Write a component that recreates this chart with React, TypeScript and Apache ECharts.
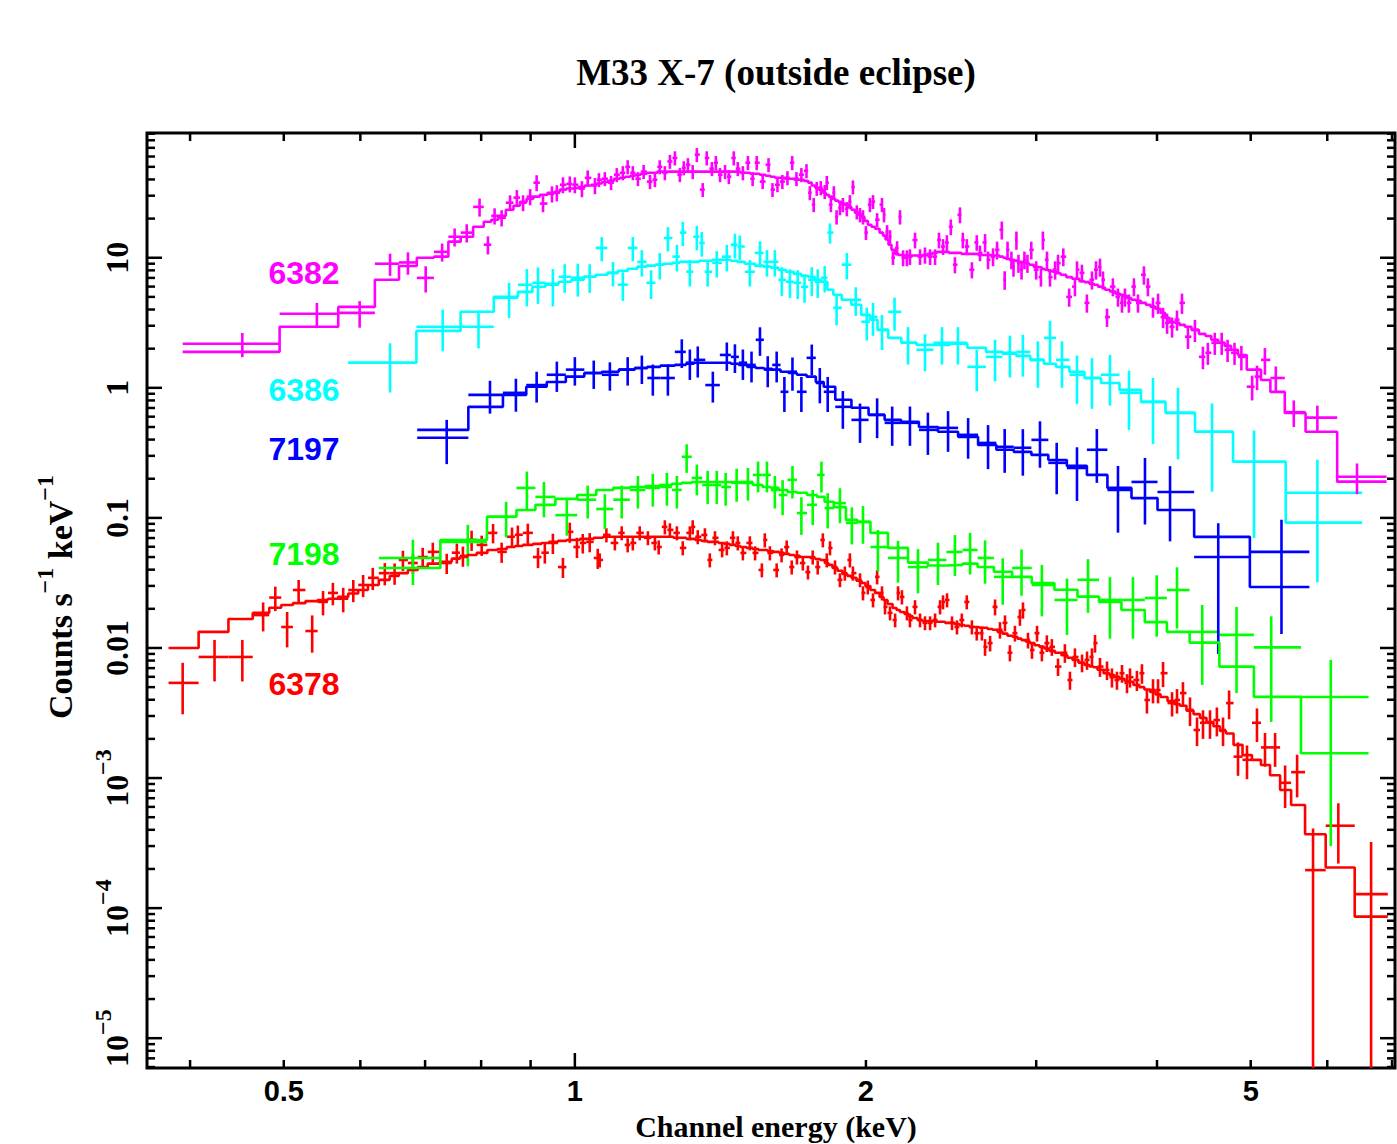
import React, { useEffect, useRef } from 'react';
import * as echarts from 'echarts';

// Each row: [channel energy keV, counts s^-1 keV^-1, 1-sigma error, model]
type Row = [number, number, number, number];

const X_MIN = 0.361;
const X_MAX = 7.05;
const Y_MIN = 5.9e-6;
const Y_MAX = 91;

const xLabelValues = [0.5, 1, 2, 5];
const xMajorTickValues = [1];
const xMinorTickValues = [0.4, 0.5, 0.6, 0.7, 0.8, 0.9, 2, 3, 4, 5, 6, 7];
const yLabelValues = [1e-5, 1e-4, 1e-3, 0.01, 0.1, 1, 10];
const yMinorMultipliers = [2, 3, 4, 5, 6, 7, 8, 9];

const magentaEdges = [0.393, 6.91];
const magenta6382: Row[] = [
  [0.453, 2.18, 0.46, 1.89], [0.541, 3.71, 0.79, 2.95], [0.599, 3.77, 0.87, 4.19], [0.644, 9.0, 1.75, 6.77],
  [0.672, 9.2, 1.8, 8.65], [0.701, 7.0, 1.6, 10.0], [0.729, 11.1, 1.75, 10.2], [0.751, 14.5, 2.3, 13.3],
  [0.773, 15.6, 2.5, 14.5], [0.797, 24.6, 3.9, 17.3], [0.813, 12.6, 2.0, 18.9], [0.826, 21.0, 3.0, 19.6],
  [0.840, 20.3, 2.9, 21.0], [0.857, 26.5, 3.7, 23.4], [0.871, 29.0, 4.1, 25.1], [0.884, 26.5, 3.7, 26.9],
  [0.899, 29.5, 4.2, 28.4], [0.913, 37.8, 5.3, 29.5], [0.927, 26.1, 3.7, 30.5], [0.947, 31.0, 4.4, 31.6],
  [0.958, 31.6, 4.5, 32.2], [0.972, 36.4, 5.1, 33.4], [0.988, 37.0, 5.2, 34.1], [1.000, 36.4, 5.1, 34.5],
  [1.017, 34.0, 4.8, 35.0], [1.031, 41.1, 5.8, 35.9], [1.049, 35.9, 5.1, 36.4], [1.059, 39.8, 4.9, 37.2],
  [1.074, 40.5, 5.0, 38.2], [1.090, 37.8, 4.7, 39.0], [1.105, 43.5, 5.4, 40.5], [1.121, 45.0, 5.6, 41.2],
  [1.134, 50.0, 6.2, 42.0], [1.148, 45.0, 5.6, 42.7], [1.162, 40.5, 5.0, 43.5], [1.178, 46.0, 5.7, 44.2],
  [1.196, 38.5, 4.8, 45.0], [1.210, 39.8, 4.9, 45.0], [1.224, 50.0, 6.2, 45.9], [1.239, 45.0, 5.6, 45.9],
  [1.254, 55.0, 6.8, 45.9], [1.269, 58.5, 7.3, 45.9], [1.284, 43.5, 5.4, 45.9], [1.296, 49.1, 6.1, 45.9],
  [1.309, 51.9, 6.4, 45.9], [1.324, 45.9, 5.7, 45.9], [1.337, 62.0, 7.7, 45.9], [1.356, 33.4, 4.1, 45.9],
  [1.369, 58.5, 7.3, 45.9], [1.386, 48.4, 6.0, 45.9], [1.399, 53.8, 6.7, 45.9], [1.413, 43.5, 5.4, 45.9],
  [1.430, 45.9, 5.7, 45.9], [1.443, 42.0, 5.2, 45.9], [1.460, 58.5, 7.3, 45.9], [1.474, 48.4, 6.0, 45.9],
  [1.492, 45.0, 5.6, 45.0], [1.510, 53.8, 6.7, 45.0], [1.527, 40.5, 5.0, 44.2], [1.542, 53.8, 6.7, 44.2],
  [1.564, 38.5, 4.8, 43.5], [1.586, 51.9, 6.4, 42.7], [1.601, 33.4, 4.1, 42.0], [1.620, 36.4, 4.5, 41.2],
  [1.639, 38.5, 4.8, 41.2], [1.659, 41.2, 5.1, 40.5], [1.678, 53.8, 6.7, 40.5], [1.695, 40.5, 5.0, 39.8],
  [1.715, 43.5, 5.4, 39.8], [1.736, 46.6, 5.8, 39.0], [1.750, 31.6, 3.9, 37.8], [1.766, 25.6, 3.2, 35.9],
  [1.779, 34.1, 4.2, 34.5], [1.796, 34.5, 4.3, 33.4], [1.813, 32.2, 4.0, 31.6], [1.822, 37.8, 4.7, 30.5],
  [1.840, 25.6, 3.2, 29.5], [1.853, 31.6, 3.9, 28.4], [1.865, 20.6, 2.6, 27.5], [1.880, 24.2, 3.0, 26.9],
  [1.893, 25.6, 3.2, 26.1], [1.911, 23.8, 3.0, 25.6], [1.925, 27.0, 3.3, 24.6], [1.939, 35.0, 4.3, 23.4],
  [1.957, 22.5, 2.8, 22.2], [1.972, 21.4, 2.7, 21.4], [1.986, 20.6, 2.6, 20.6], [2.000, 15.6, 1.9, 19.2],
  [2.019, 25.6, 3.2, 17.9], [2.034, 27.0, 3.3, 17.3], [2.054, 19.6, 2.4, 16.7], [2.078, 25.6, 3.2, 15.6],
  [2.088, 21.4, 2.7, 14.8], [2.103, 15.8, 2.0, 13.8], [2.118, 14.5, 1.8, 12.6], [2.133, 10.0, 1.2, 11.5],
  [2.154, 11.9, 1.5, 10.7], [2.169, 20.6, 2.6, 10.5], [2.185, 10.0, 1.4, 10.4], [2.205, 10.0, 1.4, 10.4],
  [2.221, 10.2, 1.4, 10.4], [2.248, 13.7, 1.9, 10.4], [2.275, 10.2, 1.4, 10.4], [2.302, 10.5, 1.5, 10.5],
  [2.330, 10.2, 1.4, 10.7], [2.358, 10.2, 1.4, 10.9], [2.380, 13.7, 1.9, 11.1], [2.403, 12.2, 1.7, 11.1],
  [2.425, 13.1, 1.8, 11.1], [2.448, 17.3, 2.4, 10.9], [2.472, 8.84, 1.25, 10.9], [2.502, 21.4, 3.0, 10.9],
  [2.519, 13.7, 1.9, 10.7], [2.543, 12.2, 1.7, 10.7], [2.574, 8.09, 1.15, 10.7], [2.604, 13.1, 1.8, 10.7],
  [2.624, 10.9, 1.5, 10.5], [2.656, 13.1, 2.1, 10.5], [2.675, 9.65, 1.5, 10.5], [2.707, 10.2, 1.6, 10.4],
  [2.733, 11.5, 1.8, 10.4], [2.764, 16.4, 2.6, 10.2], [2.783, 6.77, 1.1, 10.0], [2.802, 11.5, 1.8, 9.8],
  [2.828, 9.65, 1.5, 9.65], [2.842, 8.5, 1.35, 9.5], [2.862, 13.7, 2.2, 9.5], [2.876, 9.1, 1.45, 9.3],
  [2.897, 8.09, 1.3, 9.3], [2.917, 9.65, 1.5, 9.1], [2.938, 9.1, 1.45, 9.0], [2.965, 11.5, 1.8, 8.84],
  [3.000, 8.09, 1.3, 8.5], [3.034, 7.1, 1.1, 8.4], [3.048, 13.7, 2.2, 8.2], [3.078, 9.65, 1.5, 8.09],
  [3.100, 7.1, 1.1, 7.9], [3.138, 8.09, 1.3, 7.8], [3.160, 9.1, 1.45, 7.6], [3.200, 10.2, 1.6, 7.4],
  [3.245, 5.0, 0.8, 7.1], [3.290, 6.0, 0.95, 6.9], [3.306, 8.09, 1.3, 6.9], [3.345, 7.65, 1.2, 6.6],
  [3.385, 4.5, 0.72, 6.5], [3.426, 6.77, 1.08, 6.3], [3.459, 8.09, 1.3, 6.2], [3.492, 8.5, 1.35, 6.0],
  [3.517, 6.77, 1.08, 5.9], [3.551, 3.5, 0.56, 5.67], [3.601, 6.0, 0.95, 5.5], [3.645, 5.0, 0.8, 5.3],
  [3.680, 4.5, 0.72, 5.19], [3.706, 5.0, 0.8, 5.1], [3.741, 4.5, 0.72, 4.9], [3.786, 6.0, 0.95, 4.75],
  [3.823, 4.5, 0.72, 4.67], [3.877, 7.4, 1.2, 4.5], [3.914, 6.0, 0.95, 4.35], [3.962, 4.2, 0.74, 4.2],
  [4.010, 4.5, 0.8, 4.05], [4.058, 3.5, 0.62, 3.77], [4.097, 3.16, 0.56, 3.45], [4.146, 2.95, 0.52, 3.2],
  [4.195, 3.34, 0.59, 3.16], [4.245, 4.5, 0.8, 3.05], [4.306, 2.47, 0.48, 2.95], [4.378, 2.79, 0.54, 2.79],
  [4.462, 1.73, 0.34, 2.6], [4.515, 1.86, 0.36, 2.5], [4.590, 2.22, 0.43, 2.34], [4.666, 2.22, 0.43, 2.22],
  [4.732, 1.96, 0.38, 2.1], [4.811, 1.86, 0.36, 1.96], [4.890, 1.73, 0.37, 1.79], [5.017, 1.02, 0.22, 1.38],
  [5.076, 1.22, 0.26, 1.38], [5.172, 1.64, 0.38, 1.15], [5.308, 1.19, 0.27, 0.93], [5.540, 0.65, 0.15, 0.64],
  [5.860, 0.59, 0.14, 0.46], [6.440, 0.207, 0.055, 0.19],
];

const cyanEdges = [0.583, 6.52];
const cyan6386: Row[] = [
  [0.644, 1.56, 0.64, 1.56], [0.730, 2.95, 1.04, 2.74], [0.795, 2.95, 0.94, 3.84], [0.855, 4.92, 1.48, 5.01],
  [0.892, 6.2, 1.97, 5.47], [0.916, 6.42, 2.0, 5.98], [0.949, 6.2, 1.97, 6.31], [0.976, 7.14, 1.77, 6.53],
  [1.007, 7.02, 1.99, 6.77], [1.036, 7.14, 1.77, 7.14], [1.066, 11.9, 2.5, 7.4], [1.095, 7.65, 1.63, 7.65],
  [1.121, 6.2, 1.54, 7.94], [1.148, 11.9, 2.5, 8.23], [1.173, 9.3, 2.14, 8.54], [1.199, 6.42, 1.6, 8.7],
  [1.224, 8.84, 2.03, 8.84], [1.248, 14.2, 3.0, 9.0], [1.275, 10.2, 2.35, 9.15], [1.293, 15.6, 3.3, 9.3],
  [1.315, 7.8, 1.8, 9.3], [1.337, 14.5, 3.1, 9.3], [1.353, 13.0, 2.8, 9.48], [1.372, 7.8, 1.8, 9.48],
  [1.402, 9.15, 2.1, 9.65], [1.436, 10.2, 2.35, 9.65], [1.464, 12.6, 2.7, 9.48], [1.481, 12.2, 2.6, 9.3],
  [1.517, 7.8, 1.8, 9.0], [1.554, 10.9, 2.5, 8.7], [1.580, 9.3, 2.14, 8.54], [1.610, 9.3, 2.14, 8.39],
  [1.637, 6.77, 1.68, 8.09], [1.669, 6.53, 1.62, 7.8], [1.700, 6.42, 1.6, 7.52], [1.728, 5.98, 1.48, 7.26],
  [1.758, 6.77, 1.68, 7.14], [1.783, 6.53, 1.62, 6.77], [1.813, 7.02, 1.6, 6.53], [1.836, 15.6, 2.76, 5.67],
  [1.865, 4.12, 1.1, 5.19], [1.911, 8.84, 2.03, 4.75], [1.952, 4.75, 1.18, 4.35], [2.004, 3.22, 0.91, 3.64],
  [2.034, 3.51, 1.0, 3.34], [2.078, 2.79, 0.84, 2.79], [2.141, 3.84, 1.09, 2.42], [2.211, 2.22, 0.71, 2.22],
  [2.302, 1.96, 0.62, 2.14], [2.397, 2.22, 0.71, 2.14], [2.490, 2.22, 0.71, 2.18], [2.604, 1.45, 0.51, 2.03],
  [2.720, 1.73, 0.61, 1.89], [2.818, 1.86, 0.66, 1.83], [2.906, 1.89, 0.67, 1.76], [3.012, 1.64, 0.64, 1.64],
  [3.100, 2.42, 0.86, 1.53], [3.190, 1.64, 0.64, 1.45], [3.306, 1.26, 0.51, 1.33], [3.426, 1.19, 0.5, 1.19],
  [3.576, 1.26, 0.53, 1.09], [3.742, 0.915, 0.44, 0.965], [3.962, 0.78, 0.41, 0.78], [4.205, 0.642, 0.36, 0.642],
  [4.560, 0.459, 0.3, 0.459], [5.040, 0.27, 0.2, 0.27], [5.860, 0.156, 0.124, 0.092],
];

const blueEdges = [0.687, 5.75];
const blue7197: Row[] = [
  [0.737, 0.413, 0.154, 0.475], [0.817, 0.883, 0.25, 0.714], [0.869, 0.915, 0.26, 0.883], [0.913, 1.05, 0.28, 1.02],
  [0.958, 1.26, 0.33, 1.11], [1.000, 1.38, 0.34, 1.22], [1.046, 1.30, 0.32, 1.30], [1.087, 1.26, 0.31, 1.33],
  [1.134, 1.38, 0.34, 1.38], [1.173, 1.42, 0.35, 1.42], [1.204, 1.19, 0.32, 1.45], [1.248, 1.19, 0.32, 1.48],
  [1.290, 1.89, 0.47, 1.50], [1.315, 1.56, 0.41, 1.53], [1.340, 1.64, 0.44, 1.56], [1.389, 1.05, 0.28, 1.56],
  [1.436, 1.79, 0.44, 1.56], [1.464, 1.73, 0.43, 1.53], [1.492, 1.56, 0.41, 1.50], [1.523, 1.50, 0.40, 1.45],
  [1.554, 2.34, 0.58, 1.42], [1.583, 1.38, 0.37, 1.40], [1.617, 1.50, 0.40, 1.38], [1.647, 0.932, 0.28, 1.33],
  [1.679, 1.33, 0.38, 1.30], [1.715, 0.932, 0.28, 1.26], [1.758, 1.70, 0.45, 1.22], [1.792, 1.09, 0.33, 1.11],
  [1.826, 0.932, 0.28, 1.02], [1.893, 0.714, 0.23, 0.809], [1.972, 0.567, 0.19, 0.702], [2.054, 0.620, 0.21, 0.620],
  [2.129, 0.538, 0.18, 0.567], [2.221, 0.538, 0.18, 0.548], [2.318, 0.475, 0.17, 0.50], [2.432, 0.492, 0.17, 0.459],
  [2.551, 0.435, 0.15, 0.42], [2.675, 0.377, 0.14, 0.364], [2.783, 0.352, 0.13, 0.334], [2.906, 0.346, 0.135, 0.322],
  [3.027, 0.398, 0.155, 0.305], [3.150, 0.265, 0.113, 0.279], [3.306, 0.242, 0.107, 0.251], [3.466, 0.334, 0.148, 0.214],
  [3.645, 0.164, 0.087, 0.17], [3.887, 0.189, 0.10, 0.142], [4.126, 0.158, 0.092, 0.115], [4.628, 0.050, 0.041, 0.0715],
  [5.380, 0.0548, 0.042, 0.0294],
];

const greenEdges = [0.627, 6.62];
const green7198: Row[] = [
  [0.680, 0.0492, 0.0187, 0.0412], [0.775, 0.0654, 0.023, 0.0677], [0.849, 0.102, 0.031, 0.102], [0.892, 0.170, 0.057, 0.115],
  [0.929, 0.145, 0.044, 0.126], [0.981, 0.105, 0.032, 0.140], [1.031, 0.138, 0.039, 0.150], [1.074, 0.117, 0.035, 0.164],
  [1.118, 0.138, 0.039, 0.170], [1.162, 0.164, 0.046, 0.173], [1.204, 0.170, 0.048, 0.176], [1.245, 0.173, 0.049, 0.179],
  [1.275, 0.164, 0.046, 0.183], [1.305, 0.295, 0.073, 0.186], [1.337, 0.203, 0.054, 0.189], [1.372, 0.179, 0.051, 0.189],
  [1.402, 0.179, 0.051, 0.189], [1.432, 0.173, 0.049, 0.189], [1.470, 0.186, 0.053, 0.189], [1.510, 0.189, 0.053, 0.186],
  [1.547, 0.214, 0.057, 0.179], [1.580, 0.214, 0.057, 0.173], [1.610, 0.164, 0.046, 0.170], [1.640, 0.150, 0.045, 0.164],
  [1.679, 0.196, 0.055, 0.158], [1.715, 0.109, 0.035, 0.156], [1.762, 0.126, 0.038, 0.150], [1.799, 0.214, 0.057, 0.145],
  [1.826, 0.119, 0.036, 0.133], [1.880, 0.130, 0.039, 0.121], [1.934, 0.0915, 0.029, 0.0965], [1.986, 0.0932, 0.030, 0.0932],
  [2.058, 0.0597, 0.021, 0.0767], [2.159, 0.0492, 0.0174, 0.0588], [2.264, 0.0419, 0.0156, 0.0453], [2.374, 0.0475, 0.017, 0.043],
  [2.472, 0.0547, 0.019, 0.0435], [2.563, 0.0567, 0.020, 0.0445], [2.656, 0.0492, 0.018, 0.0419], [2.770, 0.0352, 0.0137, 0.0385],
  [2.897, 0.0412, 0.016, 0.0352], [3.041, 0.0305, 0.013, 0.0316], [3.228, 0.0234, 0.0108, 0.0280], [3.394, 0.0334, 0.0148, 0.0248],
  [3.576, 0.0234, 0.0116, 0.0226], [3.777, 0.0234, 0.0116, 0.0196], [3.997, 0.0242, 0.012, 0.0158], [4.195, 0.0279, 0.0138, 0.0133],
  [4.455, 0.0133, 0.0081, 0.0110], [4.834, 0.0126, 0.0081, 0.00719], [5.250, 0.0101, 0.0074, 0.00421], [6.050, 0.0042, 0.0039, 0.00155],
];

const redEdges = [0.380, 6.93];
const red6378: Row[] = [
  [0.393, 0.00539, 0.0023, 0.0100], [0.424, 0.00853, 0.0030, 0.0133], [0.453, 0.00853, 0.0030, 0.0167], [0.476, 0.0179, 0.0045, 0.0186],
  [0.490, 0.0244, 0.0052, 0.0204], [0.504, 0.0145, 0.0044, 0.0214], [0.518, 0.0279, 0.0054, 0.0221], [0.535, 0.0135, 0.0043, 0.0229],
  [0.549, 0.0226, 0.0048, 0.0234], [0.562, 0.0265, 0.0052, 0.0239], [0.576, 0.0239, 0.0051, 0.0247], [0.590, 0.0279, 0.0054, 0.0262],
  [0.604, 0.0305, 0.0059, 0.0279], [0.618, 0.0346, 0.0067, 0.0305], [0.636, 0.0376, 0.0073, 0.0334], [0.651, 0.0376, 0.0070, 0.0358],
  [0.664, 0.0475, 0.0084, 0.0376], [0.680, 0.0450, 0.0080, 0.0398], [0.696, 0.0500, 0.0089, 0.0419], [0.713, 0.0548, 0.0097, 0.0445],
  [0.737, 0.0450, 0.0080, 0.0460], [0.755, 0.0540, 0.0095, 0.0486], [0.766, 0.0511, 0.0090, 0.0500], [0.782, 0.0677, 0.0120, 0.0519],
  [0.801, 0.0620, 0.0110, 0.0538], [0.823, 0.0767, 0.0130, 0.0567], [0.840, 0.0548, 0.0097, 0.0577], [0.861, 0.0716, 0.0127, 0.0597],
  [0.873, 0.0742, 0.0131, 0.0608], [0.894, 0.0767, 0.0136, 0.0620], [0.916, 0.0500, 0.0089, 0.0631], [0.931, 0.0540, 0.0095, 0.0642],
  [0.949, 0.0642, 0.0114, 0.0654], [0.972, 0.0419, 0.0074, 0.0666], [0.988, 0.0781, 0.0138, 0.0677], [1.005, 0.0597, 0.0106, 0.0677],
  [1.019, 0.0642, 0.0110, 0.0690], [1.036, 0.0654, 0.0110, 0.0690], [1.056, 0.0492, 0.0087, 0.0703], [1.061, 0.0475, 0.0059, 0.0703],
  [1.078, 0.0740, 0.0092, 0.0716], [1.100, 0.0642, 0.0080, 0.0716], [1.118, 0.0767, 0.0095, 0.0716], [1.134, 0.0620, 0.0077, 0.0716],
  [1.148, 0.0642, 0.0080, 0.0716], [1.167, 0.0767, 0.0095, 0.0716], [1.190, 0.0703, 0.0087, 0.0716], [1.210, 0.0642, 0.0080, 0.0716],
  [1.221, 0.0597, 0.0074, 0.0716], [1.239, 0.0853, 0.0106, 0.0716], [1.254, 0.0809, 0.0100, 0.0716], [1.275, 0.0767, 0.0095, 0.0703],
  [1.293, 0.0588, 0.0073, 0.0703], [1.315, 0.0767, 0.0095, 0.0690], [1.324, 0.0853, 0.0106, 0.0690], [1.340, 0.0716, 0.0089, 0.0677],
  [1.363, 0.0740, 0.0092, 0.0666], [1.379, 0.0475, 0.0059, 0.0654], [1.396, 0.0703, 0.0087, 0.0654], [1.420, 0.0567, 0.0070, 0.0642],
  [1.436, 0.0588, 0.0073, 0.0631], [1.457, 0.0703, 0.0087, 0.0620], [1.474, 0.0642, 0.0080, 0.0608], [1.492, 0.0538, 0.0067, 0.0597],
  [1.517, 0.0642, 0.0080, 0.0588], [1.536, 0.0538, 0.0067, 0.0577], [1.561, 0.0398, 0.0049, 0.0567], [1.572, 0.0677, 0.0084, 0.0567],
  [1.591, 0.0538, 0.0067, 0.0557], [1.617, 0.0398, 0.0049, 0.0548], [1.636, 0.0519, 0.0064, 0.0538], [1.656, 0.0597, 0.0074, 0.0529],
  [1.676, 0.0419, 0.0052, 0.0519], [1.697, 0.0500, 0.0062, 0.0511], [1.721, 0.0450, 0.0056, 0.0500], [1.742, 0.0383, 0.0047, 0.0500],
  [1.762, 0.0500, 0.0062, 0.0492], [1.783, 0.0419, 0.0052, 0.0483], [1.805, 0.0677, 0.0084, 0.0475], [1.822, 0.0475, 0.0059, 0.0450],
  [1.836, 0.0588, 0.0073, 0.0435], [1.858, 0.0419, 0.0052, 0.0412], [1.880, 0.0334, 0.0041, 0.0392], [1.902, 0.0376, 0.0047, 0.0370],
  [1.925, 0.0475, 0.0059, 0.0358], [1.939, 0.0376, 0.0047, 0.0346], [1.972, 0.0334, 0.0041, 0.0329], [1.986, 0.0265, 0.0033, 0.0316],
  [2.009, 0.0294, 0.0036, 0.0299], [2.034, 0.0234, 0.0029, 0.0279], [2.054, 0.0352, 0.0044, 0.0265], [2.078, 0.0265, 0.0033, 0.0247],
  [2.093, 0.0207, 0.0026, 0.0234], [2.118, 0.0186, 0.0023, 0.0218], [2.144, 0.0164, 0.0020, 0.0203], [2.159, 0.0265, 0.0033, 0.0196],
  [2.179, 0.0247, 0.0031, 0.0189], [2.205, 0.0186, 0.0023, 0.0183], [2.221, 0.0164, 0.0020, 0.0176], [2.248, 0.0207, 0.0026, 0.0170],
  [2.275, 0.0164, 0.0020, 0.0164], [2.302, 0.0156, 0.0019, 0.0161], [2.330, 0.0156, 0.0019, 0.0161], [2.358, 0.0164, 0.0020, 0.0159],
  [2.386, 0.0207, 0.0026, 0.0159], [2.403, 0.0226, 0.0028, 0.0159], [2.426, 0.0234, 0.0029, 0.0156], [2.455, 0.0156, 0.0019, 0.0156],
  [2.484, 0.0145, 0.0018, 0.0153], [2.513, 0.0164, 0.0020, 0.0150], [2.543, 0.0226, 0.0028, 0.0148], [2.574, 0.0145, 0.0018, 0.0145],
  [2.604, 0.0130, 0.0016, 0.0145], [2.636, 0.0130, 0.0016, 0.0143], [2.656, 0.0102, 0.0015, 0.0143], [2.688, 0.0109, 0.0015, 0.0140],
  [2.720, 0.0207, 0.0029, 0.0138], [2.752, 0.0138, 0.0020, 0.0133], [2.785, 0.0156, 0.0022, 0.0129], [2.818, 0.00919, 0.0013, 0.0124],
  [2.852, 0.0130, 0.0018, 0.0122], [2.886, 0.0173, 0.0025, 0.0118], [2.907, 0.0196, 0.0028, 0.0115], [2.942, 0.0115, 0.0016, 0.0112],
  [2.970, 0.00965, 0.0014, 0.0109], [3.006, 0.0130, 0.0018, 0.0105], [3.041, 0.00919, 0.0013, 0.0102], [3.077, 0.0109, 0.0016, 0.0099],
  [3.114, 0.0102, 0.0015, 0.0095], [3.160, 0.00719, 0.0011, 0.0092], [3.212, 0.00919, 0.0015, 0.0088], [3.251, 0.00567, 0.0009, 0.0084],
  [3.290, 0.00853, 0.0014, 0.0081], [3.346, 0.00770, 0.0012, 0.0077], [3.386, 0.00809, 0.0013, 0.0074], [3.426, 0.00853, 0.0014, 0.0072],
  [3.451, 0.0109, 0.0017, 0.0071], [3.492, 0.00719, 0.0012, 0.0068], [3.551, 0.00677, 0.0011, 0.0064], [3.593, 0.00596, 0.0010, 0.0062],
  [3.636, 0.00567, 0.0009, 0.0060], [3.680, 0.00640, 0.0010, 0.0058], [3.724, 0.00539, 0.0009, 0.0056], [3.751, 0.00596, 0.0010, 0.0055],
  [3.813, 0.00567, 0.0010, 0.0052], [3.859, 0.00640, 0.0011, 0.0050], [3.905, 0.00398, 0.00085, 0.0048], [3.962, 0.00475, 0.0010, 0.0046],
  [4.010, 0.00475, 0.0010, 0.0044], [4.058, 0.00640, 0.0014, 0.0042], [4.146, 0.00377, 0.0008, 0.0039], [4.195, 0.00398, 0.00085, 0.0037],
  [4.255, 0.00450, 0.00096, 0.0036], [4.327, 0.00334, 0.00083, 0.0033], [4.400, 0.00234, 0.00058, 0.0031], [4.463, 0.00266, 0.00066, 0.0029],
  [4.538, 0.00266, 0.00066, 0.0027], [4.613, 0.00279, 0.0007, 0.0025], [4.681, 0.00234, 0.00058, 0.0023], [4.749, 0.00377, 0.00094, 0.0022],
  [4.851, 0.00146, 0.00042, 0.0018], [4.956, 0.00138, 0.0004, 0.0015], [5.075, 0.00266, 0.00077, 0.00138], [5.173, 0.00172, 0.0005, 0.00126],
  [5.299, 0.00172, 0.0005, 0.00105], [5.427, 0.000919, 0.00033, 0.00081], [5.584, 0.00111, 0.0004, 0.00062], [5.800, 0.000196, 0.000214, 0.00037],
  [6.16, 0.00043, 0.00021, 0.000205], [6.66, 0.000128, 0.000194, 0.000086],
];

const datasets = [
  { name: '6378', color: '#ff0000', rows: red6378, edges: redEdges },
  { name: '7198', color: '#00ff00', rows: green7198, edges: greenEdges },
  { name: '7197', color: '#0000ff', rows: blue7197, edges: blueEdges },
  { name: '6386', color: '#00ffff', rows: cyan6386, edges: cyanEdges },
  { name: '6382', color: '#ff00ff', rows: magenta6382, edges: magentaEdges },
];

const seriesLabels = [
  { text: '6382', color: '#ff00ff', x: 304, y: 273 },
  { text: '6386', color: '#00ffff', x: 304, y: 390 },
  { text: '7197', color: '#0000ff', x: 304, y: 449 },
  { text: '7198', color: '#00ff00', x: 304, y: 554 },
  { text: '6378', color: '#ff0000', x: 304, y: 684 },
];

const SERIF = '"Liberation Serif", "Times New Roman", serif';
const SANS = '"Liberation Sans", Arial, sans-serif';
const LW = 2.6;

function binBounds(rows: Row[], edges: number[]) {
  const n = rows.length;
  const lo: number[] = [];
  const hi: number[] = [];
  for (let i = 0; i < n; i++) {
    lo.push(i === 0 ? edges[0] : Math.sqrt(rows[i - 1][0] * rows[i][0]));
    hi.push(i === n - 1 ? edges[1] : Math.sqrt(rows[i][0] * rows[i + 1][0]));
  }
  return { lo, hi };
}

function buildTickItems() {
  const items: number[][] = [];
  xMinorTickValues.forEach((v) => items.push([v, Y_MIN, 0]));
  xMajorTickValues.forEach((v) => items.push([v, Y_MIN, 1]));
  yLabelValues.forEach((d) => {
    items.push([X_MIN, d, 3]);
    yMinorMultipliers.forEach((m) => {
      const v = m * d;
      if (v >= Y_MIN && v <= Y_MAX) items.push([X_MIN, v, 2]);
    });
  });
  yMinorMultipliers.forEach((m) => {
    const v = m * 1e-6;
    if (v >= Y_MIN) items.push([X_MIN, v, 2]);
  });
  xLabelValues.forEach((v) => items.push([v, Y_MIN, 4]));
  yLabelValues.forEach((v) => items.push([X_MIN, v, 5]));
  return items;
}

function buildOption() {
  const series: any[] = [];
  datasets.forEach((ds) => {
    const { lo, hi } = binBounds(ds.rows, ds.edges);
    const crossData = ds.rows.map((r, i) => [r[0], r[1], lo[i], hi[i], Math.max(r[1] - r[2], 1e-9), r[1] + r[2]]);
    const modelData: number[][] = [];
    ds.rows.forEach((r, i) => {
      modelData.push([lo[i], r[3]]);
      modelData.push([hi[i], r[3]]);
    });
    const color = ds.color;
    series.push({
      type: 'custom',
      name: ds.name + ' data',
      clip: true,
      silent: true,
      data: crossData,
      encode: { x: 0, y: 1 },
      renderItem: (params: any, api: any) => {
        const e = api.value(0);
        const y = api.value(1);
        const c = api.coord([e, y]);
        const pl = api.coord([api.value(2), y]);
        const ph = api.coord([api.value(3), y]);
        const pb = api.coord([e, api.value(4)]);
        const pt = api.coord([e, api.value(5)]);
        const style = { stroke: color, lineWidth: LW };
        return {
          type: 'group',
          children: [
            { type: 'line', shape: { x1: pl[0], y1: c[1], x2: ph[0], y2: c[1] }, style },
            { type: 'line', shape: { x1: c[0], y1: pt[1], x2: c[0], y2: pb[1] }, style },
          ],
        };
      },
    });
    series.push({
      type: 'line',
      name: ds.name + ' model',
      data: modelData,
      showSymbol: false,
      symbol: 'none',
      silent: true,
      clip: true,
      lineStyle: { color, width: LW },
    });
  });

  series.push({
    type: 'custom',
    name: 'ticks',
    silent: true,
    clip: false,
    data: buildTickItems(),
    encode: { x: 0, y: 1 },
    z: 10,
    renderItem: (params: any, api: any) => {
      const cs = params.coordSys;
      const L = cs.x;
      const T = cs.y;
      const R = cs.x + cs.width;
      const B = cs.y + cs.height;
      const kind = api.value(2);
      const st = { stroke: '#000', lineWidth: 2.5 };
      if (kind === 0 || kind === 1) {
        const px = api.coord([api.value(0), Y_MIN])[0];
        const len = kind === 1 ? 15 : 8;
        return {
          type: 'group',
          children: [
            { type: 'line', shape: { x1: px, y1: B, x2: px, y2: B - len }, style: st },
            { type: 'line', shape: { x1: px, y1: T, x2: px, y2: T + len }, style: st },
          ],
        };
      }
      if (kind === 2 || kind === 3) {
        const py = api.coord([X_MIN, api.value(1)])[1];
        const len = kind === 3 ? 15 : 8;
        return {
          type: 'group',
          children: [
            { type: 'line', shape: { x1: L, y1: py, x2: L + len, y2: py }, style: st },
            { type: 'line', shape: { x1: R, y1: py, x2: R - len, y2: py }, style: st },
          ],
        };
      }
      if (kind === 4) {
        const v = api.value(0);
        const px = api.coord([v, Y_MIN])[0];
        return {
          type: 'text',
          x: px,
          y: B + 23,
          style: {
            text: String(v),
            fill: '#000',
            font: 'bold 29px ' + SANS,
            align: 'center',
            verticalAlign: 'middle',
          },
        };
      }
      const v = api.value(1);
      const py = api.coord([X_MIN, v])[1];
      const k = Math.round(Math.log10(v));
      const text = k >= -2 ? '{a|' + String(v) + '}' : '{a|10}{b|\u2212' + -k + '}';
      return {
        type: 'text',
        x: L - 30,
        y: py,
        rotation: Math.PI / 2,
        style: {
          text,
          align: 'center',
          verticalAlign: 'middle',
          rich: {
            a: { fontSize: 32, fontFamily: SERIF, fontWeight: 'bold', fill: '#000', lineHeight: k >= -2 ? 34 : 52 },
            b: { fontSize: 24, fontFamily: SERIF, fontWeight: 'bold', fill: '#000', verticalAlign: 'top' },
          },
        },
      };
    },
  });

  const graphics: any[] = [
    {
      type: 'text',
      x: 776,
      y: 72,
      style: {
        text: 'M33 X-7 (outside eclipse)',
        fill: '#000',
        font: 'bold 37px ' + SERIF,
        align: 'center',
        verticalAlign: 'middle',
      },
    },
    {
      type: 'text',
      x: 776,
      y: 1126,
      style: {
        text: 'Channel energy (keV)',
        fill: '#000',
        font: 'bold 30px ' + SERIF,
        align: 'center',
        verticalAlign: 'middle',
      },
    },
    {
      type: 'text',
      x: 60,
      y: 597,
      rotation: Math.PI / 2,
      style: {
        text: '{a|Counts s}{b|\u22121}{a| keV}{b|\u22121}',
        align: 'center',
        verticalAlign: 'middle',
        rich: {
          a: { fontSize: 34, fontFamily: SERIF, fontWeight: 'bold', fill: '#000', lineHeight: 54 },
          b: { fontSize: 24, fontFamily: SERIF, fontWeight: 'bold', fill: '#000', verticalAlign: 'top' },
        },
      },
    },
  ];
  seriesLabels.forEach((l) => {
    graphics.push({
      type: 'text',
      x: l.x,
      y: l.y,
      style: {
        text: l.text,
        fill: l.color,
        font: 'bold 32px ' + SANS,
        align: 'center',
        verticalAlign: 'middle',
      },
    });
  });

  return {
    animation: false,
    backgroundColor: '#ffffff',
    grid: {
      left: 147,
      top: 133,
      width: 1248,
      height: 935,
      show: true,
      borderColor: '#000',
      borderWidth: 3,
      backgroundColor: 'transparent',
    },
    xAxis: {
      type: 'log',
      logBase: 10,
      min: X_MIN,
      max: X_MAX,
      axisLine: { show: false },
      axisTick: { show: false },
      axisLabel: { show: false },
      splitLine: { show: false },
    },
    yAxis: {
      type: 'log',
      logBase: 10,
      min: Y_MIN,
      max: Y_MAX,
      axisLine: { show: false },
      axisTick: { show: false },
      axisLabel: { show: false },
      splitLine: { show: false },
    },
    graphic: graphics,
    series,
  };
}

export default function App() {
  const ref = useRef<HTMLDivElement>(null);
  useEffect(() => {
    if (!ref.current) return;
    const chart = echarts.init(ref.current, undefined, { renderer: 'svg' });
    chart.setOption(buildOption() as any);
    return () => chart.dispose();
  }, []);
  return (
    <div
      ref={ref}
      style={{ position: 'absolute', left: 0, top: 0, width: 1397, height: 1144, background: '#fff' }}
    />
  );
}
